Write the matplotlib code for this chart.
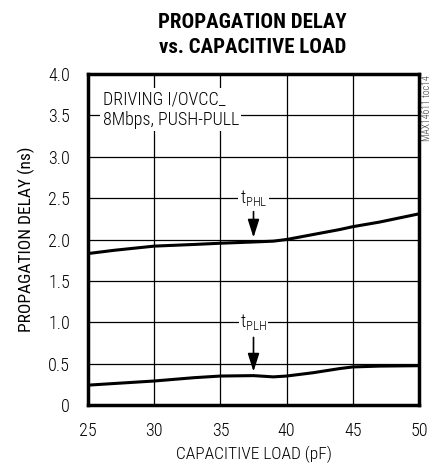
import matplotlib
matplotlib.use("Agg")
import matplotlib.pyplot as plt
from matplotlib import font_manager

names = {f.name for f in font_manager.fontManager.ttflist}


def pick(cands):
    for c in cands:
        if c in names:
            return c
    return 'DejaVu Sans'


FONT = pick(['Roboto Condensed', 'Archivo Narrow', 'Liberation Sans Narrow', 'Barlow Condensed'])
TITLE_FONT = pick(['Roboto Condensed', 'Barlow Condensed', 'Archivo Narrow'])
plt.rcParams['font.family'] = [FONT, 'DejaVu Sans']
plt.rcParams['font.weight'] = 'light'
plt.rcParams['mathtext.fontset'] = 'custom'
plt.rcParams['mathtext.rm'] = FONT + ':light'

# data
load_pf = [25, 27, 30, 33, 35, 37.5, 39, 40, 42, 44, 45, 47, 50]
t_phl = [1.83, 1.87, 1.92, 1.94, 1.955, 1.97, 1.98, 2.0, 2.06, 2.12, 2.155, 2.21, 2.31]
t_plh = [0.24, 0.26, 0.29, 0.33, 0.35, 0.355, 0.34, 0.35, 0.39, 0.44, 0.46, 0.47, 0.475]

x_ticks = [25, 30, 35, 40, 45, 50]
y_ticks = [0, 0.5, 1.0, 1.5, 2.0, 2.5, 3.0, 3.5, 4.0]
y_tick_labels = ['0', '0.5', '1.0', '1.5', '2.0', '2.5', '3.0', '3.5', '4.0']

fig = plt.figure(figsize=(4.31, 4.63), dpi=100)
ax = fig.add_axes([88 / 431, 1 - 405 / 463, 331 / 431, 331 / 463])

ax.plot(load_pf, t_phl, color='black', linewidth=2.2, zorder=3)
ax.plot(load_pf, t_plh, color='black', linewidth=2.2, zorder=3)

ax.set_xlim(25, 50)
ax.set_ylim(0, 4.0)
ax.set_xticks(x_ticks)
ax.set_yticks(y_ticks)
ax.set_yticklabels(y_tick_labels)
ax.tick_params(length=0, labelsize=13)
ax.tick_params(axis='x', pad=12)
ax.tick_params(axis='y', pad=13)
ax.grid(True, color='black', linewidth=0.9)
for s in ax.spines.values():
    s.set_linewidth(2.5)

# x label placed on the figure so it sits just above the bottom edge
fig.text(0.59, 1 - 454 / 463, 'CAPACITIVE LOAD (pF)', ha='center', va='center', fontsize=12.5)
ax.set_ylabel('PROPAGATION DELAY (ns)', fontsize=12.5, labelpad=9)

fig.text(0.586, 0.952, 'PROPAGATION DELAY', ha='center', va='center',
         fontsize=15, fontweight='heavy', family=[TITLE_FONT, 'DejaVu Sans'])
fig.text(0.586, 0.898, 'vs. CAPACITIVE LOAD', ha='center', va='center',
         fontsize=15, fontweight='heavy', family=[TITLE_FONT, 'DejaVu Sans'])

ax.text(26.1, 3.8, 'DRIVING I/OVCC_\n8Mbps, PUSH-PULL', fontsize=13, va='top', ha='left',
        linespacing=1.15, zorder=4,
        bbox=dict(facecolor='white', edgecolor='none', pad=1.5))

bbox = dict(facecolor='white', edgecolor='none', pad=1.0)
ax.text(37.5, 2.5, r't$_{\mathregular{PHL}}$', fontsize=13, ha='center', va='center', zorder=4, bbox=bbox)
ax.text(37.5, 1.0, r't$_{\mathregular{PLH}}$', fontsize=13, ha='center', va='center', zorder=4, bbox=bbox)

arrow = dict(arrowstyle='-|>,head_width=0.35,head_length=1.1', color='black', linewidth=1.2)
ax.annotate('', xy=(37.5, 1.99), xytext=(37.5, 2.37), arrowprops=arrow, zorder=5)
ax.annotate('', xy=(37.5, 0.37), xytext=(37.5, 0.85), arrowprops=arrow, zorder=5)

fig.text(427 / 431, 1 - 75 / 463, 'MAX14611 toc14', rotation=90, ha='center', va='top',
         fontsize=7, color='#333333')

fig.savefig('out.png', dpi=100)
